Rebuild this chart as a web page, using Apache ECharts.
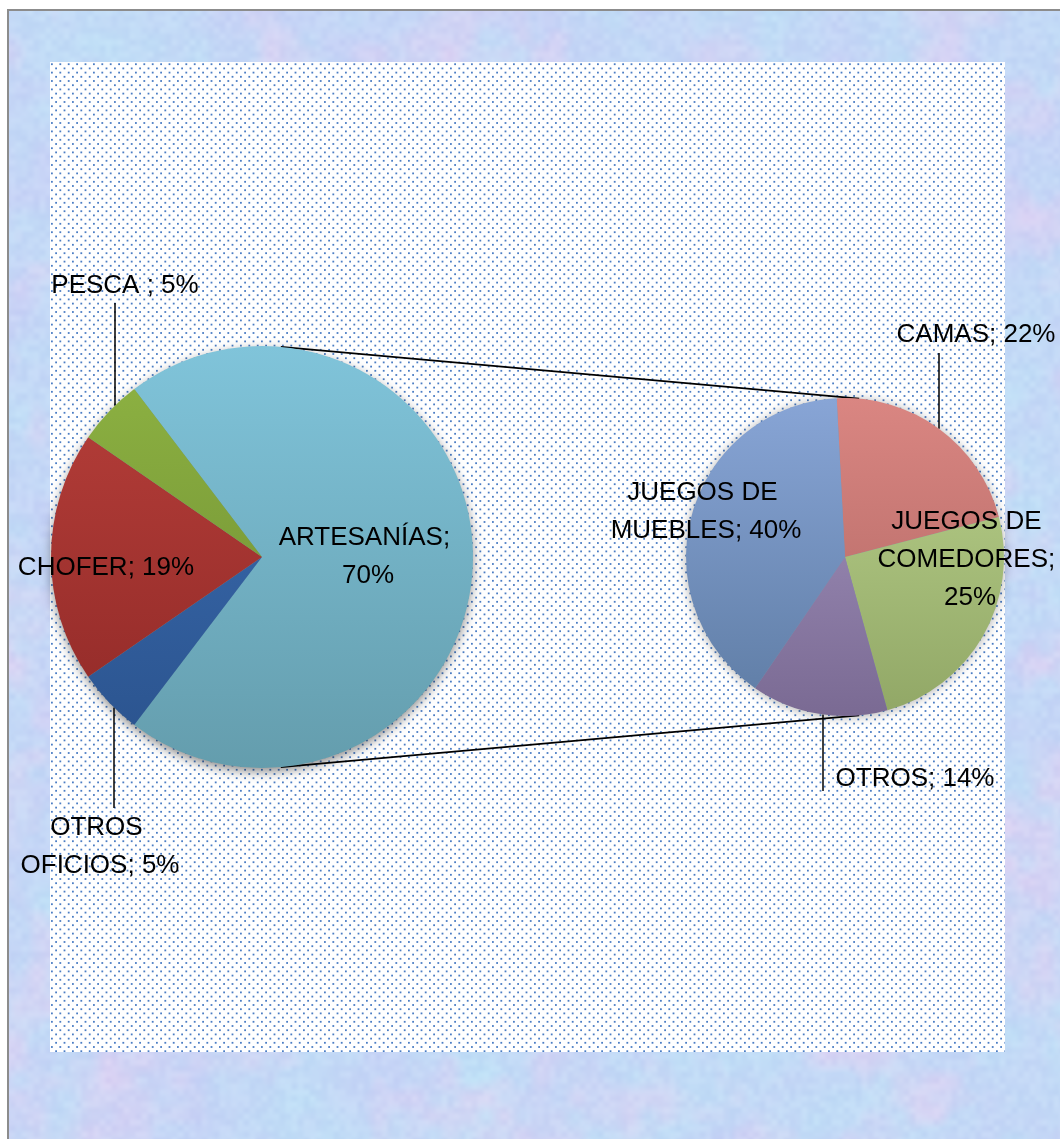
<!DOCTYPE html>
<html>
<head>
<meta charset="utf-8">
<title>Oficios y artesanías</title>
<script src="https://cdn.jsdelivr.net/npm/echarts@6/dist/echarts.min.js"></script>
<style>
  html, body { margin: 0; padding: 0; background: #ffffff; }
  #chart { width: 1060px; height: 1139px; }
</style>
</head>
<body>
<div id="chart"></div>
<script>
// ---- data ----
const mainCategories = ['ARTESANÍAS', 'OTROS OFICIOS', 'CHOFER', 'PESCA '];
const mainValues = [70, 5, 19, 5];
const detailCategories = ['CAMAS', 'JUEGOS DE COMEDORES', 'OTROS', 'JUEGOS DE MUEBLES'];
const detailValues = [22, 25, 14, 40];

// ---- styling ----
const mainColors = [
  ['#80c4da', '#649dad'],   // ARTESANÍAS
  ['#3d70b6', '#2a528c'],   // OTROS OFICIOS
  ['#b9403b', '#8e2826'],   // CHOFER
  ['#8fb443', '#6a8830']    // PESCA
];
const detailColors = [
  ['#da8682', '#ad6561'],   // CAMAS
  ['#bbd38d', '#91a766'],   // JUEGOS DE COMEDORES
  ['#a797c2', '#7a6a93'],   // OTROS
  ['#88a5d6', '#5e7ca4']    // JUEGOS DE MUEBLES
];

const FONT = "'Liberation Sans', Arial, sans-serif";
const FONT_SIZE = 26;

const mainPie = { cx: 262, cy: 557, r: 211 };
const detailPie = { cx: 845, cy: 557, r: 159, start: 93 };

const plot = { x: 50, y: 62, w: 955, h: 990 };

// label placement (centre of the text block); lineX = leader line column
const mainLabelPos = [
  { x: 368, y: 557, width: 200 },
  { x: 100, y: 847, width: 176, lineX: 114, side: 1, lineEnd: 808 },
  { x: 106, y: 568 },
  { x: 125, y: 286, lineX: 115, side: -1, lineEnd: 303 }
];
const detailLabelPos = [
  { x: 976, y: 335, lineX: 939, side: -1, lineEnd: 353 },
  { x: 970, y: 560, width: 190 },
  { x: 915, y: 779, lineX: 823, side: 1, lineEnd: 791 },
  { x: 706, y: 512, width: 206 }
];

// ---- background: pastel texture frame + dotted plot panel ----
function hash(ix, iy, seed) {
  let h = Math.imul(ix, 374761393) ^ Math.imul(iy, 668265263) ^ Math.imul(seed, 1274126177);
  h = Math.imul(h ^ (h >>> 13), 1274126177);
  h ^= h >>> 16;
  return (h >>> 0) / 4294967296;
}
function vnoise(x, y, s, seed) {
  const gx = x / s, gy = y / s;
  const ix = Math.floor(gx), iy = Math.floor(gy);
  const fx = gx - ix, fy = gy - iy;
  const ux = fx * fx * (3 - 2 * fx), uy = fy * fy * (3 - 2 * fy);
  const a = hash(ix, iy, seed), b = hash(ix + 1, iy, seed);
  const c = hash(ix, iy + 1, seed), d = hash(ix + 1, iy + 1, seed);
  return a + (b - a) * ux + (c - a) * uy + (a - b - c + d) * ux * uy;
}
function buildBackground(W, H) {
  const cv = document.createElement('canvas');
  cv.width = W; cv.height = H;
  const ctx = cv.getContext('2d');
  const img = ctx.createImageData(W, H);
  const px = img.data;
  const blue = [200, 208, 246], cyan = [190, 224, 246], pink = [226, 208, 242];
  for (let y = 0; y < H; y++) {
    for (let x = 0; x < W; x++) {
      const i = (y * W + x) * 4;
      const t1 = 0.6 * vnoise(x, y, 60, 1) + 0.4 * vnoise(x, y, 22, 2);
      const t2 = 0.7 * vnoise(x, y, 55, 3) + 0.3 * vnoise(x, y, 18, 4);
      const fine = vnoise(x, y, 6, 5) - 0.5;
      let r = blue[0] + (cyan[0] - blue[0]) * t1;
      let g = blue[1] + (cyan[1] - blue[1]) * t1;
      let b = blue[2] + (cyan[2] - blue[2]) * t1;
      const p = Math.min(1, Math.max(0, t2 - 0.5) * 1.6);
      r += (pink[0] - r) * p; g += (pink[1] - g) * p; b += (pink[2] - b) * p;
      const k = fine * 10;
      px[i] = Math.min(255, r + k);
      px[i + 1] = Math.min(255, g + k);
      px[i + 2] = Math.min(255, b + k * 0.4);
      px[i + 3] = 255;
    }
  }
  ctx.putImageData(img, 0, 0);
  // white margin and grey frame
  ctx.fillStyle = '#ffffff';
  ctx.fillRect(0, 0, W, 9);
  ctx.fillRect(0, 0, 7, H);
  ctx.fillStyle = '#8c8c8c';
  ctx.fillRect(7, 9, W - 7, 2);
  ctx.fillRect(7, 9, 2, H - 9);
  // dotted panel
  ctx.fillStyle = '#ffffff';
  ctx.fillRect(plot.x, plot.y, plot.w, plot.h);
  ctx.save();
  ctx.beginPath();
  ctx.rect(plot.x, plot.y, plot.w, plot.h);
  ctx.clip();
  ctx.fillStyle = '#4b7dc4';
  const step = 4.2;
  for (let r = 0, y = plot.y + 1.3; y < plot.y + plot.h; r++, y += step) {
    const off = (r % 2) ? step : 0;
    for (let x = plot.x + 1 + off; x < plot.x + plot.w; x += step * 2) {
      ctx.fillRect(x, y, 1.8, 1.8);
    }
  }
  ctx.restore();
  return cv;
}

// ---- helpers ----
function gradient(pair, pie) {
  return {
    type: 'linear', global: true,
    x: 0, y: pie.cy - pie.r, x2: 0, y2: pie.cy + pie.r,
    colorStops: [{ offset: 0, color: pair[0] }, { offset: 1, color: pair[1] }]
  };
}
function labelText(p) {
  return p.name + '; ' + p.value + '%';
}
function makeItems(names, values, colors, pos, pie) {
  return names.map((n, i) => {
    const lp = pos[i];
    const outside = lp.lineX != null;
    const label = { position: outside ? 'outside' : 'inside', align: 'center' };
    if (lp.width) { label.width = lp.width; label.overflow = 'break'; }
    return {
      name: n,
      value: values[i],
      itemStyle: { color: gradient(colors[i], pie) },
      label: label,
      labelLine: { show: outside, lineStyle: { color: '#000000', width: 1.5 } }
    };
  });
}
function layoutFn(pos, pie) {
  return function (p) {
    const lp = pos[p.dataIndex];
    const out = { x: lp.x, y: lp.y, align: 'center', verticalAlign: 'middle' };
    if (lp.lineX != null) {
      const dx = lp.lineX - pie.cx;
      const ey = pie.cy + lp.side * Math.sqrt(pie.r * pie.r - dx * dx);
      out.labelLinePoints = [[lp.lineX, ey], [lp.lineX, (ey + lp.lineEnd) / 2], [lp.lineX, lp.lineEnd]];
    }
    return out;
  };
}
// outer tangent lines joining the two pies
function tangentLines(a, b) {
  const dx = b.cx - a.cx, dy = b.cy - a.cy;
  const d = Math.hypot(dx, dy);
  const base = Math.atan2(dy, dx);
  const beta = Math.acos((a.r - b.r) / d);
  return [base + beta, base - beta].map(t => [
    [a.cx + a.r * Math.cos(t), a.cy + a.r * Math.sin(t)],
    [b.cx + b.r * Math.cos(t), b.cy + b.r * Math.sin(t)]
  ]);
}

const mainTotal = mainValues.reduce((s, v) => s + v, 0);
const mainStart = mainValues[0] / mainTotal * 360 / 2;

const chart = echarts.init(document.getElementById('chart'), null, { renderer: 'canvas' });
const bg = buildBackground(1060, 1139);

const joinLines = tangentLines(mainPie, detailPie).map(seg => ({
  type: 'polyline', z: 1, silent: true,
  shape: { points: seg },
  style: { stroke: '#000000', lineWidth: 1.6, fill: null }
}));

const baseLabel = {
  formatter: labelText,
  fontFamily: FONT, fontSize: FONT_SIZE, color: '#000000', lineHeight: 38
};

chart.setOption({
  animation: false,
  graphic: [
    { type: 'image', z: 0, silent: true, style: { image: bg, x: 0, y: 0, width: 1060, height: 1139 } },
    { type: 'circle', z: 1, silent: true, shape: { cx: mainPie.cx, cy: mainPie.cy, r: mainPie.r - 1 },
      style: { fill: '#6a9aa8', shadowBlur: 12, shadowOffsetY: 4, shadowColor: 'rgba(0,0,0,0.5)' } },
    { type: 'circle', z: 1, silent: true, shape: { cx: detailPie.cx, cy: detailPie.cy, r: detailPie.r - 1 },
      style: { fill: '#8090a8', shadowBlur: 12, shadowOffsetY: 1, shadowColor: 'rgba(0,0,0,0.38)' } }
  ].concat(joinLines),
  series: [
    {
      type: 'pie', z: 2,
      center: [mainPie.cx, mainPie.cy], radius: mainPie.r,
      startAngle: mainStart, clockwise: true,
      avoidLabelOverlap: false,
      label: baseLabel,
      labelLayout: layoutFn(mainLabelPos, mainPie),
      emphasis: { disabled: true },
      data: makeItems(mainCategories, mainValues, mainColors, mainLabelPos, mainPie)
    },
    {
      type: 'pie', z: 2,
      center: [detailPie.cx, detailPie.cy], radius: detailPie.r,
      startAngle: detailPie.start, clockwise: true,
      avoidLabelOverlap: false,
      label: baseLabel,
      labelLayout: layoutFn(detailLabelPos, detailPie),
      emphasis: { disabled: true },
      data: makeItems(detailCategories, detailValues, detailColors, detailLabelPos, detailPie)
    }
  ]
});
</script>
</body>
</html>
